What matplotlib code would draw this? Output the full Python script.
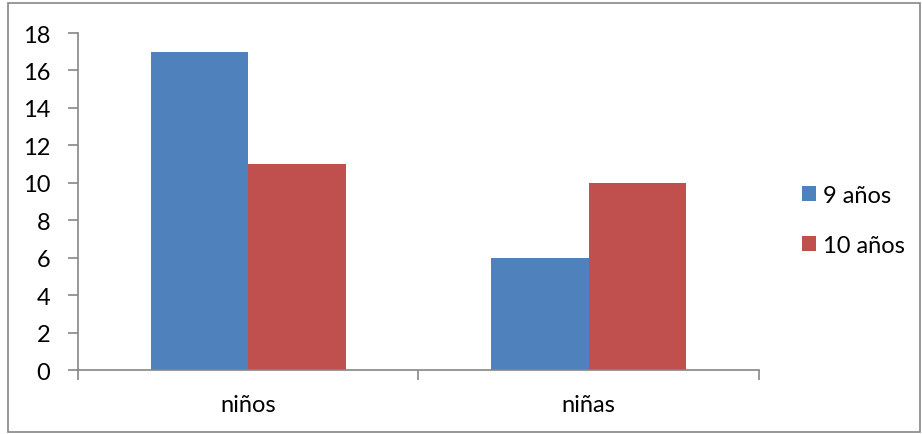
import numpy as np
import matplotlib.pyplot as plt
from matplotlib.patches import Rectangle

categories = ["niños", "niñas"]
series_names = ["9 años", "10 años"]
nueve = [17, 6]
diez = [11, 10]
colors = ["#4F81BD", "#C0504D"]

plt.rcParams["font.family"] = ["Lato", "DejaVu Sans"]

fig = plt.figure(figsize=(9.22, 4.35), dpi=100)
ax = fig.add_axes([0.0846, 0.1471, 0.7386, 0.7747])

x = np.arange(len(categories))
w = 0.286
b1 = ax.bar(x - w / 2, nueve, w, color=colors[0], label=series_names[0])
b2 = ax.bar(x + w / 2, diez, w, color=colors[1], label=series_names[1])

ax.set_xlim(-0.5, 1.5)
ax.set_ylim(0, 18)
ax.set_yticks(np.arange(0, 19, 2))
ax.set_xticks(x)
ax.set_xticklabels(categories)
ax.set_xticks([-0.5, 0.5, 1.5], minor=True)

gray = "#868686"
for s in ["top", "right"]:
    ax.spines[s].set_visible(False)
for s in ["left", "bottom"]:
    ax.spines[s].set_color(gray)
    ax.spines[s].set_linewidth(1.2)

ax.tick_params(axis="y", length=7, width=1.2, color=gray, labelsize=17, pad=13)
ax.tick_params(axis="x", which="major", length=0, labelsize=17, pad=17)
ax.tick_params(axis="x", which="minor", length=7, width=1.2, color=gray)

fig.legend(handles=[b1, b2], loc="center left", bbox_to_anchor=(0.8698, 0.491),
           frameon=False, fontsize=17, handlelength=0.6, handleheight=0.6,
           handletextpad=0.3, labelspacing=1.2, borderpad=0, borderaxespad=0)

fig.patches.append(Rectangle((0.009, 0.005), 0.989, 0.986, transform=fig.transFigure,
                             fill=False, edgecolor=gray, linewidth=1.2))

fig.savefig("out.png", dpi=100)
